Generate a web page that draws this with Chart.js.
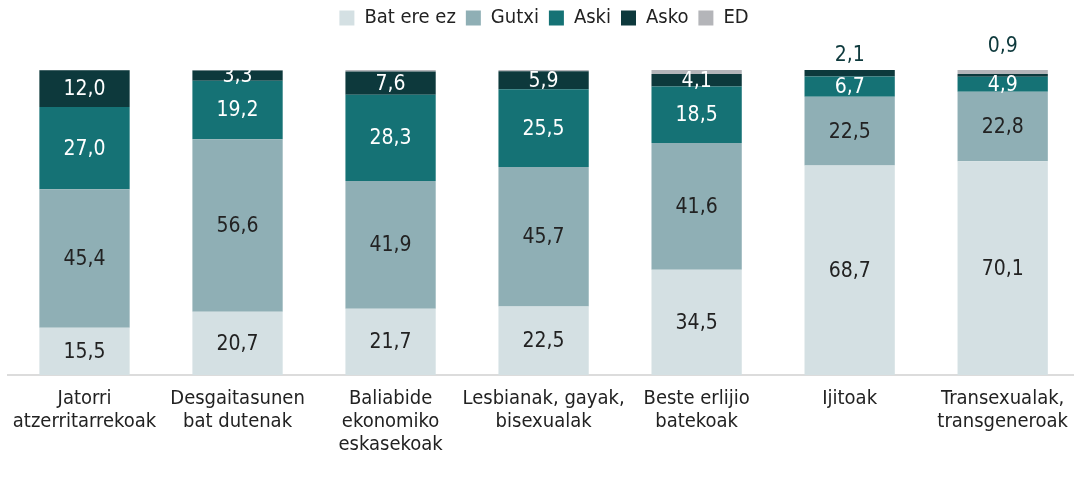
<!DOCTYPE html>
<html>
<head>
<meta charset="utf-8">
<script src="https://cdn.jsdelivr.net/npm/chart.js@4.4.0/dist/chart.umd.min.js"></script>
<style>
html, body { margin: 0; padding: 0; overflow: hidden; background: #fff; }
#wrap { width: 1080px; height: 481px; position: relative; }
</style>
</head>
<body>
<div id="wrap"><canvas id="chart"></canvas></div>
<script>

var categories = [
	["Jatorri", "atzerritarrekoak"],
	["Desgaitasunen", "bat dutenak"],
	["Baliabide", "ekonomiko", "eskasekoak"],
	["Lesbianak, gayak,", "bisexualak"],
	["Beste erlijio", "batekoak"],
	["Ijitoak"],
	["Transexualak,", "transgeneroak"]
];

var seriesNames = ["Bat ere ez", "Gutxi", "Aski", "Asko", "ED"];

var batEreEz = [15.5, 20.7, 21.7, 22.5, 34.5, 68.7, 70.1];
var gutxi    = [45.4, 56.6, 41.9, 45.7, 41.6, 22.5, 22.8];
var aski     = [27.0, 19.2, 28.3, 25.5, 18.5, 6.7, 4.9];
var asko     = [12.0, 3.3, 7.6, 5.9, 4.1, 2.1, 0.9];
var ed       = [0.1, 0.2, 0.5, 0.4, 1.3, 0.0, 1.3];

var colors = ["#d4e0e3", "#8fafb5", "#157275", "#0d393c", "#b4b5b9"];

var fontFamily = '"DejaVu Sans Condensed", "Roboto", sans-serif';

function fmt(v) {
	return v.toFixed(1).replace(".", ",");
}

// value labels drawn on / above each segment
var valueLabels = {
	id: "valueLabels",
	afterDatasetsDraw: function (chart) {
		var ctx = chart.ctx;
		var last = chart.data.datasets.length - 1;
		ctx.save();
		ctx.font = "21px " + fontFamily;
		ctx.textAlign = "center";
		ctx.textBaseline = "middle";
		chart.data.datasets.forEach(function (ds, d) {
			if (d === last) return;
			var meta = chart.getDatasetMeta(d);
			meta.data.forEach(function (bar, i) {
				var v = ds.data[i];
				if (v < 3) {
					var top = chart.getDatasetMeta(last).data[i].y;
					ctx.fillStyle = "#0d393c";
					ctx.fillText(fmt(v), bar.x, top - 14 - (ed[i] > 0 ? 9 : 0));
				} else {
					ctx.fillStyle = d >= 2 ? "#ffffff" : "#222222";
					ctx.fillText(fmt(v), bar.x, (bar.y + bar.base) / 2 + 1);
				}
			});
		});
		ctx.restore();
	}
};

// extra room under the legend
var legendMargin = {
	id: "legendMargin",
	beforeInit: function (chart) {
		var origFit = chart.legend.fit;
		chart.legend.fit = function () {
			origFit.bind(chart.legend)();
			this.height += 32;
		};
	}
};

var allSeries = [batEreEz, gutxi, aski, asko, ed];
var datasets = [];
for (var s = 0; s < allSeries.length; s++) {
	datasets.push({
		label: seriesNames[s],
		data: allSeries[s],
		backgroundColor: colors[s],
		borderWidth: 0,
		barPercentage: 1,
		categoryPercentage: 0.59
	});
}

var ctx = document.getElementById("chart");
var chart = new Chart(ctx, {
	type: "bar",
	data: {
		labels: categories,
		datasets: datasets
	},
	options: {
		responsive: true,
		maintainAspectRatio: false,
		animation: false,
		layout: {
			padding: {
				left: 8,
				right: 0,
				top: -2,
				bottom: 13
			}
		},
		plugins: {
			legend: {
				position: "top",
				labels: {
					boxWidth: 15,
					boxHeight: 15,
					padding: 10,
					color: "#222222",
					font: { family: fontFamily, size: 20 }
				}
			},
			tooltip: { enabled: false }
		},
		scales: {
			x: {
				stacked: true,
				grid: {
					color: "rgba(0,0,0,0)",
					drawOnChartArea: false,
					drawTicks: false
				},
				border: { display: true, color: "#dcdcdc", width: 2 },
				ticks: {
					color: "#222222",
					padding: 12,
					maxRotation: 0,
					autoSkip: false,
					font: { family: fontFamily, size: 20, lineHeight: 1.15 }
				}
			},
			y: {
				stacked: true,
				display: false,
				min: 0,
				max: 100
			}
		}
	},
	plugins: [valueLabels, legendMargin]
});
</script>
</body>
</html>
